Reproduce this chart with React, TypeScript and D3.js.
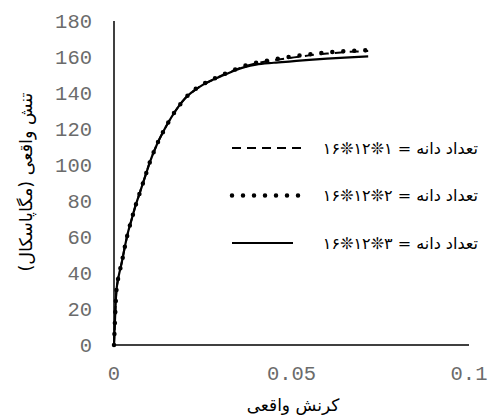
import React from "react";
import * as d3 from "d3";

// strain values shared by the three curves
const strain = [
  0, 0.0003, 0.0006, 0.001, 0.0015, 0.0022, 0.003, 0.004, 0.005, 0.006, 0.007,
  0.008, 0.009, 0.01, 0.012, 0.014, 0.016, 0.018, 0.02, 0.022, 0.025, 0.028,
  0.031, 0.034, 0.037, 0.04, 0.045, 0.05, 0.055, 0.06, 0.065, 0.0716,
];

const stress1 = [
  0, 15, 28, 35, 40, 46, 54, 63, 70, 77, 83, 89, 95, 101, 111, 119, 126, 132,
  137, 140.5, 144.5, 147.5, 150.3, 152.8, 155, 156.5, 158.2, 159.6, 160.9,
  161.9, 162.7, 163.3,
];
const stress2 = [
  0, 15, 28, 35, 40, 46, 54, 63, 70, 77, 83, 89, 95, 101, 111, 119, 126, 132,
  137, 140.8, 144.8, 147.8, 150.5, 153, 155.2, 156.8, 158.6, 160.2, 161.5,
  162.5, 163.2, 163.8,
];
const stress3 = [
  0, 15, 28, 35, 40, 46, 54, 63, 70, 77, 83, 89, 95, 101, 111, 119, 126, 132,
  137, 140.5, 144.5, 147.5, 150, 152.5, 154.5, 155.8, 156.8, 157.6, 158.4,
  159.1, 159.7, 160.3,
];

const legendLabels = [
  "تعداد دانه = ۱❊۱۲❊۱۶",
  "تعداد دانه = ۲❊۱۲❊۱۶",
  "تعداد دانه = ۳❊۱۲❊۱۶",
];
const xTicks = [0, 0.05, 0.1];
const yTicks = [0, 20, 40, 60, 80, 100, 120, 140, 160, 180];

const dashes = ["9 6", "0 11", "none"];
const widths = [2, 4.5, 2.2];

export default function App() {
  const x = d3.scaleLinear().domain([0, 0.1]).range([114, 469]);
  const y = d3.scaleLinear().domain([0, 180]).range([345, 21]);
  const line = d3
    .line<number>()
    .x((_, i) => x(strain[i]))
    .y((d) => y(d))
    .curve(d3.curveMonotoneX);

  const series = [stress1, stress2, stress3];
  const tickFont = "'Liberation Mono', 'DejaVu Sans Mono', monospace";
  const faFont = "'DejaVu Sans', sans-serif";

  return (
    <svg
      width={491}
      height={417}
      style={{ position: "absolute", left: 0, top: 0, background: "#fff" }}
    >
      {/* axes */}
      <line x1={x(0)} x2={x(0)} y1={y(180)} y2={y(0)} stroke="#000" strokeWidth={1.5} />
      <line x1={x(0)} x2={x(0.1)} y1={y(0)} y2={y(0)} stroke="#000" strokeWidth={1.5} />

      {yTicks.map((t) => (
        <text
          key={t}
          x={92}
          y={y(t)}
          dy="0.35em"
          textAnchor="end"
          fontFamily={tickFont}
          fontSize={20.5}
          fill="#6b6b6b"
        >
          {t}
        </text>
      ))}
      {xTicks.map((t) => (
        <text
          key={t}
          x={x(t)}
          y={373}
          dy="0.35em"
          textAnchor="middle"
          fontFamily={tickFont}
          fontSize={20.5}
          fill="#6b6b6b"
        >
          {t}
        </text>
      ))}

      {/* curves */}
      {series.map((s, i) => (
        <path
          key={i}
          d={line(s) ?? ""}
          fill="none"
          stroke="#000"
          strokeWidth={widths[i]}
          strokeDasharray={dashes[i]}
          strokeLinecap={i === 1 ? "round" : "butt"}
        />
      ))}

      {/* legend */}
      {legendLabels.map((lab, i) => {
        const ly = 148 + i * 47.5;
        return (
          <g key={i}>
            <line
              x1={232}
              x2={i === 2 ? 293 : 301}
              y1={ly}
              y2={ly}
              stroke="#000"
              strokeWidth={widths[i]}
              strokeDasharray={dashes[i]}
              strokeLinecap={i === 1 ? "round" : "butt"}
            />
            <text
              x={478}
              y={ly}
              dy="0.35em"
              direction="rtl"
              textAnchor="start"
              fontFamily={faFont}
              fontSize={16}
              fill="#000"
            >
              {lab}
            </text>
          </g>
        );
      })}

      {/* axis titles */}
      <text
        x={293}
        y={405}
        dy="0.35em"
        direction="rtl"
        textAnchor="middle"
        fontFamily={faFont}
        fontSize={17}
        fill="#000"
      >
        کرنش واقعی
      </text>
      <text
        transform={`translate(26,182) rotate(-90)`}
        dy="0.35em"
        direction="rtl"
        textAnchor="middle"
        fontFamily={faFont}
        fontSize={17.5}
        fill="#000"
      >
        تنش واقعی (مگاپاسکال)
      </text>
    </svg>
  );
}
